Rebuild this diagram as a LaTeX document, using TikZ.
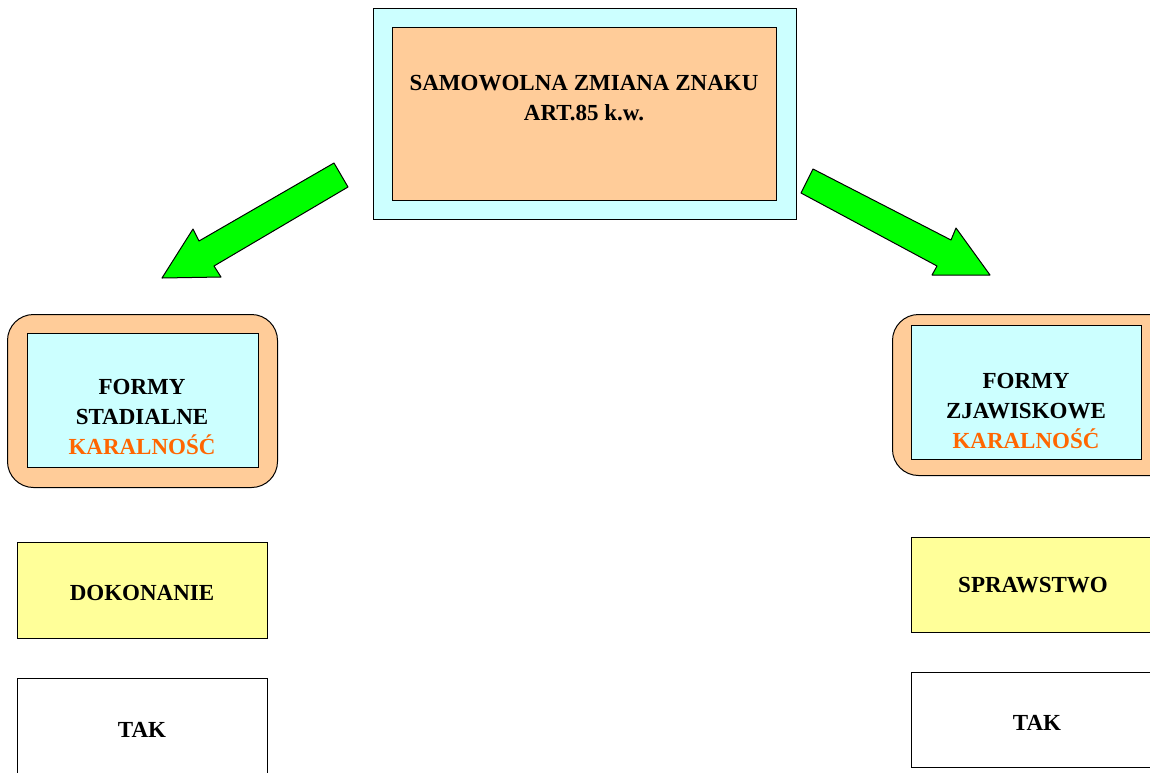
\documentclass[tikz,border=0pt]{standalone}
\usepackage{fontspec}
\setmainfont{Liberation Serif}
\definecolor{lcyan}{HTML}{CCFFFF}
\definecolor{peach}{HTML}{FFCC99}
\definecolor{lyellow}{HTML}{FFFF99}
\definecolor{korange}{HTML}{FF6600}
\definecolor{agreen}{HTML}{00FF00}
\tikzset{
  box/.style={draw=black, line width=1pt, inner sep=0pt, anchor=north west},
  lbl/.style={font=\fontsize{23}{30}\selectfont\bfseries, align=center, inner sep=0pt},
  garrow/.style={draw=black, line width=1pt, fill=agreen, line join=round}
}
\begin{document}
\begin{tikzpicture}[x=1pt,y=-1pt]
\clip (0,0) rectangle (1150,772);
\fill[white] (0,0) rectangle (1150,772);
% top
\node[box, fill=lcyan, minimum width=423pt, minimum height=211pt] (topout) at (373,8) {};
\node[box, fill=peach, minimum width=384pt, minimum height=173pt] (topin) at (392,27) {};
\node[lbl] (toptxt) at (584,98) {SAMOWOLNA ZMIANA ZNAKU\\ART.85 k.w.};
% arrows
\draw[garrow] (334,163) -- (348,187) -- (214,266) -- (221,277) -- (162,278) -- (193,229) -- (199,241) -- cycle;
\draw[garrow] (813,169) -- (801,193) -- (937,266) -- (932,275) -- (990,275) -- (956,228) -- (951,240) -- cycle;
% left forms
\node[box, fill=peach, rounded corners=26pt, minimum width=270pt, minimum height=173pt] (lfout) at (7,314) {};
\node[box, fill=lcyan, minimum width=231pt, minimum height=134pt] (lfin) at (27,333) {};
\node[lbl] (lftxt) at (142,417) {FORMY\\STADIALNE\\\textcolor{korange}{KARALNOŚĆ}};
% right forms
\node[box, fill=peach, rounded corners=26pt, minimum width=290pt, minimum height=161pt] (rfout) at (892,314) {};
\node[box, fill=lcyan, minimum width=230pt, minimum height=134pt] (rfin) at (911,325) {};
\node[lbl] (rftxt) at (1026,411) {FORMY\\ZJAWISKOWE\\\textcolor{korange}{KARALNOŚĆ}};
% left lower
\node[box, fill=lyellow, minimum width=250pt, minimum height=96pt] (dok) at (17,542) {};
\node[lbl] at (142,593) {DOKONANIE};
\node[box, fill=white, minimum width=250pt, minimum height=110pt] (ltak) at (17,678) {};
\node[lbl] at (142,730) {TAK};
% right lower
\node[box, fill=lyellow, minimum width=250pt, minimum height=95pt] (spr) at (911,537) {};
\node[lbl] at (1033,585) {SPRAWSTWO};
\node[box, fill=white, minimum width=250pt, minimum height=95pt] (rtak) at (911,672) {};
\node[lbl] at (1037,723) {TAK};
\end{tikzpicture}
\end{document}
